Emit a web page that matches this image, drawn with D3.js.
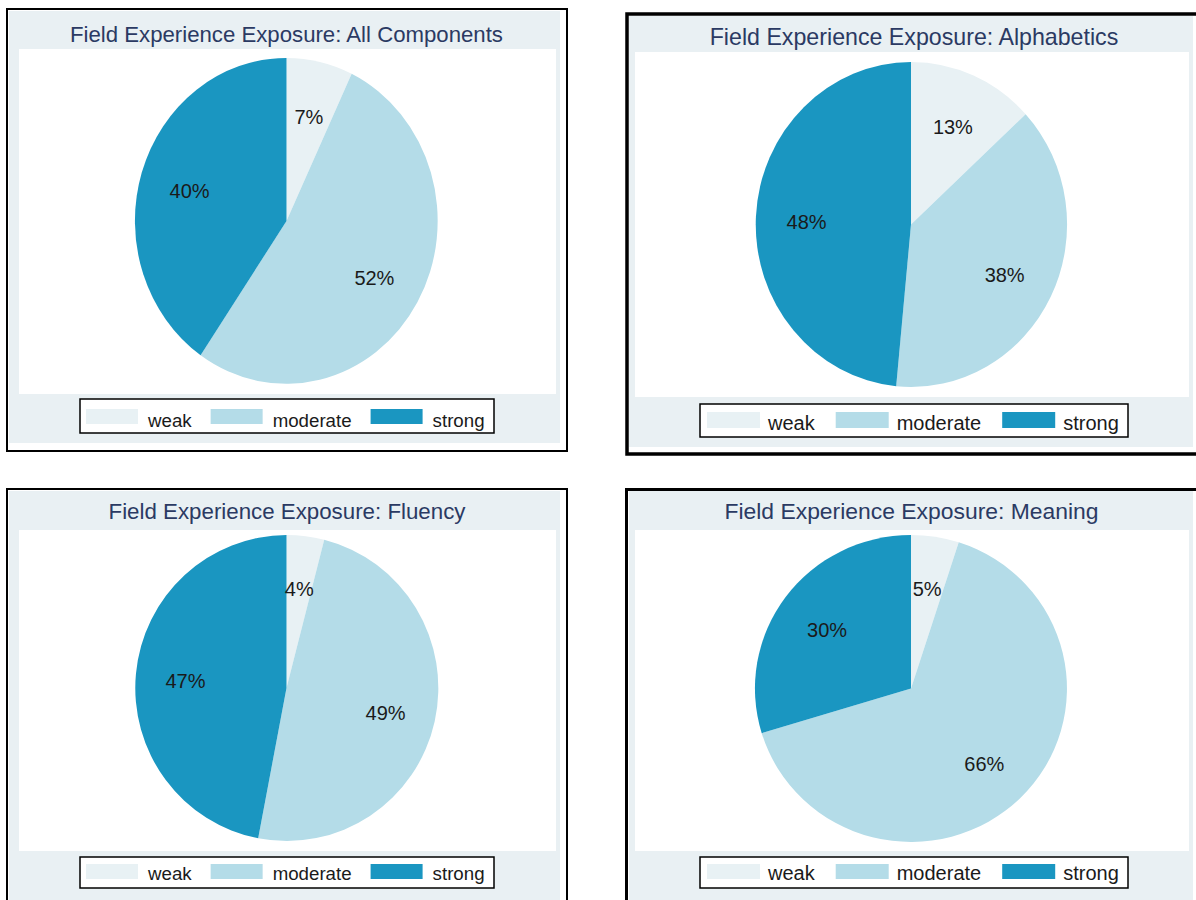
<!DOCTYPE html>
<html>
<head>
<meta charset="utf-8">
<script src="https://cdn.jsdelivr.net/npm/d3@7"></script>
<style>
  html, body { margin: 0; padding: 0; background: #fff; }
  svg { display: block; }
</style>
</head>
<body>
<svg id="chart" width="1196" height="900"></svg>
<script>
// Share of field experience exposure (percent) per component
const categories = ["weak", "moderate", "strong"];
const titles = [
  "Field Experience Exposure: All Components",
  "Field Experience Exposure: Alphabetics",
  "Field Experience Exposure: Fluency",
  "Field Experience Exposure: Meaning"
];
const allComponents = [7, 52, 40];
const alphabetics = [13, 38, 48];
const fluency = [4, 49, 47];
const meaning = [5, 66, 30];
const seriesValues = [allComponents, alphabetics, fluency, meaning];

const sliceColors = ["#e8f1f4", "#b4dce8", "#1a96c1"];
const bgColor = "#e9f0f3";
const titleColor = "#2b3a63";
const FONT = "'Liberation Sans', Arial, Helvetica, sans-serif";

// Panel geometry (frame, backdrop, plot region, pie, legend)
const panels = [
  { frame: [7, 9, 560, 442], stroke: 2, back: [9, 11, 551, 432], plot: [19, 49, 537, 345],
    title: { x: 286.5, y: 42, size: 22.2 }, pie: { cx: 286.5, cy: 221, rx: 151.5, ry: 163 },
    legend: { box: [80, 399, 414, 34], swY: 409, swH: 15, base: 427, size: 18.7, swW: 52, gap: 10, pad: 6, itemGap: 19 } },
  { frame: [627, 14, 600, 440], stroke: 3.5, back: [629, 16, 564, 431], plot: [635, 52, 554, 345],
    title: { x: 914, y: 45, size: 23.2 }, pie: { cx: 911, cy: 224.5, rx: 156, ry: 162.5 },
    legend: { box: [700, 404, 428, 33], swY: 412, swH: 16, base: 430, size: 20, swW: 53, gap: 8, pad: 7, itemGap: 21 } },
  { frame: [7, 489, 560, 440], stroke: 2, back: [9, 491, 551, 430], plot: [19, 530, 537, 321],
    title: { x: 287, y: 519, size: 22.3 }, pie: { cx: 286.5, cy: 688, rx: 151.5, ry: 153 },
    legend: { box: [80, 857, 414, 31], swY: 864, swH: 15, base: 880, size: 18.7, swW: 52, gap: 10, pad: 6, itemGap: 19 } },
  { frame: [626.5, 489.5, 600, 440], stroke: 3, back: [629, 491, 564, 430], plot: [635, 530, 554, 321],
    title: { x: 911.5, y: 519, size: 22.9 }, pie: { cx: 911, cy: 688.5, rx: 156, ry: 153.5 },
    legend: { box: [700, 857, 428, 31], swY: 864, swH: 15, base: 880, size: 20, swW: 53, gap: 8, pad: 7, itemGap: 21 } }
];

const svg = d3.select("#chart");
svg.append("rect").attr("width", 1196).attr("height", 900).attr("fill", "#fff");

const color = d3.scaleOrdinal().domain(categories).range(sliceColors);
const pie = d3.pie().sort(null).value(d => d.value).startAngle(0).endAngle(2 * Math.PI);
const arc = d3.arc().innerRadius(0).outerRadius(1);
const labelArc = d3.arc().innerRadius(0.67).outerRadius(0.67);

panels.forEach((p, i) => {
  const g = svg.append("g").attr("class", "panel");
  const data = categories.map((c, k) => ({ cat: c, value: seriesValues[i][k] }));

  // frame and backdrop
  g.append("rect")
    .attr("x", p.frame[0]).attr("y", p.frame[1])
    .attr("width", p.frame[2]).attr("height", p.frame[3])
    .attr("fill", "#fff").attr("stroke", "#000").attr("stroke-width", p.stroke);
  g.append("rect")
    .attr("x", p.back[0]).attr("y", p.back[1])
    .attr("width", p.back[2]).attr("height", p.back[3])
    .attr("fill", bgColor);
  g.append("rect")
    .attr("x", p.plot[0]).attr("y", p.plot[1])
    .attr("width", p.plot[2]).attr("height", p.plot[3])
    .attr("fill", "#fff");

  // title
  g.append("text")
    .attr("x", p.title.x).attr("y", p.title.y)
    .attr("text-anchor", "middle")
    .attr("font-family", FONT).attr("font-size", p.title.size)
    .attr("fill", titleColor)
    .text(titles[i]);

  // pie slices (unit arcs stretched to the plot's aspect)
  const arcs = pie(data);
  const pg = g.append("g").attr("transform", `translate(${p.pie.cx},${p.pie.cy})`);
  pg.append("g").attr("transform", `scale(${p.pie.rx},${p.pie.ry})`)
    .selectAll("path").data(arcs).join("path")
    .attr("d", arc)
    .attr("fill", d => color(d.data.cat));

  pg.selectAll("text.plabel").data(arcs).join("text")
    .attr("class", "plabel")
    .attr("x", d => labelArc.centroid(d)[0] * p.pie.rx)
    .attr("y", d => labelArc.centroid(d)[1] * p.pie.ry + 2.5)
    .attr("text-anchor", "middle")
    .attr("dominant-baseline", "central")
    .attr("font-family", FONT).attr("font-size", 20)
    .attr("fill", "#1a1a1a")
    .text(d => d.data.value + "%");

  // legend
  const L = p.legend;
  const lg = g.append("g");
  lg.append("rect")
    .attr("x", L.box[0]).attr("y", L.box[1])
    .attr("width", L.box[2]).attr("height", L.box[3])
    .attr("fill", "#fff").attr("stroke", "#000").attr("stroke-width", 1.5);
  let x = L.box[0] + L.pad;
  categories.forEach(c => {
    lg.append("rect")
      .attr("x", x).attr("y", L.swY)
      .attr("width", L.swW).attr("height", L.swH)
      .attr("fill", color(c));
    const t = lg.append("text")
      .attr("x", x + L.swW + L.gap).attr("y", L.base)
      .attr("font-family", FONT).attr("font-size", L.size)
      .attr("fill", "#1a1a1a")
      .text(c);
    x = x + L.swW + L.gap + t.node().getComputedTextLength() + L.itemGap;
  });
});
</script>
</body>
</html>
